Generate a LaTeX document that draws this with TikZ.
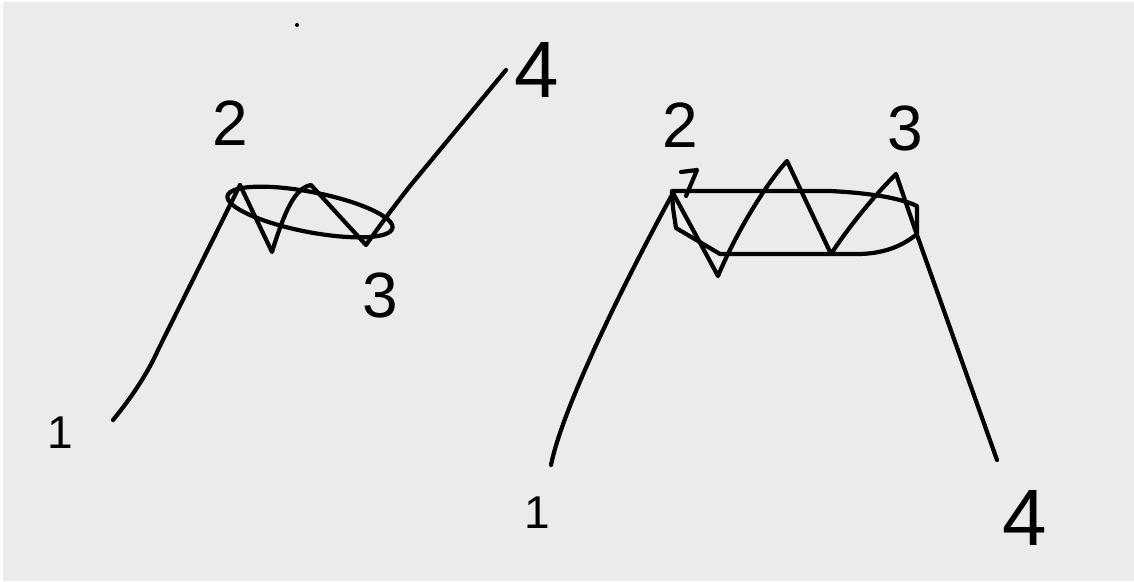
\documentclass[tikz,border=0pt]{standalone}
\usepackage{fontspec}
\newfontfamily\handfont{Liberation Sans}
\definecolor{sheet}{HTML}{EBEBEB}

\begin{document}
\begin{tikzpicture}[x=1pt,y=-1pt,
  pen/.style={line width=4.2pt,line cap=round,line join=round},
  lbl/.style={font={\handfont\fontsize{#1}{#1}\selectfont},inner sep=0pt},
  lbl/.default=64]
\useasboundingbox (0,0) rectangle (1134,581);
\fill[white] (0,0) rectangle (1134,581);
\fill[sheet] (3,2) rectangle (1134,581);
\coordinate (l1) at (113,420);
\coordinate (l2) at (240,185);
\coordinate (l3) at (366,245);
\coordinate (l4) at (506,70);
\coordinate (lc) at (310,212);
\coordinate (r1) at (551,465);
\coordinate (r2) at (673,193);
\coordinate (r3) at (896,174);
\coordinate (r4) at (997,460);
\draw[pen] (l1) .. controls (136,392) and (150,368) .. (158,350) -- (l2);
\draw[pen] (l2) -- (272,252) .. controls (285,210) and (295,188) .. (311,185) -- (l3)
  .. controls (378,228) and (395,205) .. (410,186) -- (l4);
\draw[pen,rotate around={-11:(lc)}] (lc) ellipse [x radius=84pt,y radius=20pt];
\draw[pen] (r1) .. controls (562,410) and (620,290) .. (r2);
\draw[pen] (r2) -- (718,276) .. controls (735,235) and (765,185) .. (787,161) -- (831,254)
  .. controls (850,225) and (875,195) .. (r3) -- (917,235) -- (r4);
\draw[pen] (672,191) -- (830,191) .. controls (870,193) and (900,198) .. (917,206) -- (917,234)
  .. controls (900,248) and (880,254) .. (857,254) -- (720,254) -- (676,228) -- (673,208) -- cycle;
\draw[pen] (681,172) -- (697,170) -- (686,196);
\fill (297,25) circle[radius=2pt];
\node[lbl=46] (n1a) at (60,433) {1};
\node[lbl] (n2a) at (230,123) {2};
\node[lbl] (n3a) at (380,295) {3};
\node[lbl=80] (n4a) at (537,70) {4};
\node[lbl=46] (n1b) at (537,513) {1};
\node[lbl] (n2b) at (680,125) {2};
\node[lbl] (n3b) at (905,128) {3};
\node[lbl=80] (n4b) at (1025,518) {4};
\end{tikzpicture}
\end{document}
